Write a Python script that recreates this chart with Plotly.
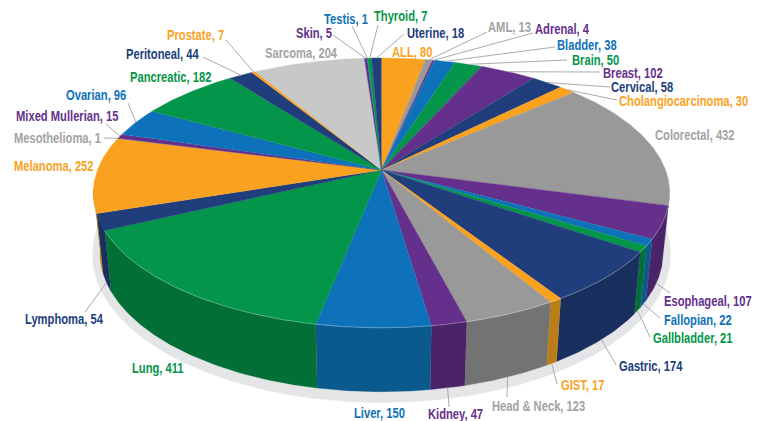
import math
import plotly.graph_objects as go

categories = ["ALL", "AML", "Adrenal", "Bladder", "Brain", "Breast", "Cervical", "Cholangiocarcinoma",
              "Colorectal", "Esophageal", "Fallopian", "Gallbladder", "Gastric", "GIST", "Head & Neck",
              "Kidney", "Liver", "Lung", "Lymphoma", "Melanoma", "Mesothelioma", "Mixed Mullerian",
              "Ovarian", "Pancreatic", "Peritoneal", "Prostate", "Sarcoma", "Skin", "Testis", "Thyroid", "Uterine"]
values = [80, 13, 4, 38, 50, 102, 58, 30, 432, 107, 22, 21, 174, 17, 123, 47, 150, 411, 54, 252, 1, 15, 96,
          182, 44, 7, 204, 5, 1, 7, 18]

ORANGE, GREY, PURPLE, BLUE, GREEN, NAVY, LIGHT = "#faa21f", "#999999", "#65308c", "#0e72ba", "#03964a", "#203e7c", "#c7c8c8"
color_names = [ORANGE, GREY, PURPLE, BLUE, GREEN, PURPLE, NAVY, ORANGE, GREY, PURPLE, BLUE, GREEN, NAVY, ORANGE, GREY,
               PURPLE, BLUE, GREEN, NAVY, ORANGE, GREY, PURPLE, BLUE, GREEN, NAVY, ORANGE, LIGHT, PURPLE, BLUE, GREEN, NAVY]
SIDE = {ORANGE: "#bb7d18", GREY: "#737373", PURPLE: "#4a2368", BLUE: "#0b5a8e", GREEN: "#026f36", NAVY: "#192f5e", LIGHT: "#8f8f8f"}
TEXT = {GREY: "#a3a3a3", LIGHT: "#a3a3a3"}

# label layout: name -> (left x, centre y, leader start x, leader start y, ring)
label_layout = {
    "ALL": (390, 52, None, None, None), "AML": (486, 27, 487, 32, "top"), "Adrenal": (533, 29, 533, 33, "top"),
    "Bladder": (555, 45, 555, 47, "top"), "Brain": (570, 60, 567, 60, "top"), "Breast": (601, 73, 600, 72, "top"),
    "Cervical": (609, 87, 610, 87, "top"), "Cholangiocarcinoma": (617, 101, 617, 100, "top"),
    "Colorectal": (653, 135, None, None, None), "Esophageal": (662, 301, 670, 293, "low"),
    "Fallopian": (662, 320, 660, 318, "low"), "Gallbladder": (651, 338, 650, 337, "low"),
    "Gastric": (617, 366, 616, 365, "low"), "GIST": (559, 385, 557, 384, "low"),
    "Head & Neck": (490, 406, 507, 397, "low"), "Kidney": (426, 414, 449, 407, "low"),
    "Liver": (352, 413, None, None, None), "Lung": (130, 368, None, None, None),
    "Lymphoma": (23, 319, 85, 312, "low"), "Melanoma": (12, 166, None, None, None),
    "Mesothelioma": (12, 138, 104, 138, "top"), "Mixed Mullerian": (14, 116, 106, 124, "top"),
    "Ovarian": (64, 95, 128, 103, "top"), "Pancreatic": (128, 77, None, None, None),
    "Peritoneal": (124, 54, 203, 57, "top"), "Prostate": (165, 35, 226, 40, "top"),
    "Sarcoma": (263, 53, None, None, None), "Skin": (294, 33, 333, 35, "top"),
    "Testis": (322, 19, 352, 26, "top"), "Thyroid": (372, 16, 378, 25, "top"), "Uterine": (405, 33, 404, 34, "top"),
}

CX, K = 381.5, 0.17
TOP = dict(cy=170.0, a=284.0, b=131.0)
LOW = dict(cy=229.0, a=277.5, b=135.0)
SHADOW = dict(cy=254.5, a=289.0, b=148.0)


def project(theta, ring, k=K):
    t = math.radians(theta)
    u, v = math.sin(t), math.cos(t)
    d = 1 + k * v
    return CX + ring["a"] * u / d, ring["cy"] - ring["b"] * v / d


def arc(t0, t1, ring, k=K):
    n = max(2, int(abs(t1 - t0) / 0.5) + 2)
    pts = [project(t0 + (t1 - t0) * i / (n - 1), ring, k) for i in range(n)]
    return [p[0] for p in pts], [p[1] for p in pts]


total = sum(values)
starts, c = [], 0
for val in values:
    starts.append(c / total * 360)
    c += val
ends = starts[1:] + [360.0]

fig = go.Figure()


def poly(xs, ys, color):
    fig.add_trace(go.Scatter(x=xs, y=ys, mode="lines", fill="toself", fillcolor=color,
                             line=dict(color=color, width=0.4), hoverinfo="skip", showlegend=False))


sx, sy = arc(0, 360, SHADOW, 0)
poly(sx, sy, "#e4e5e6")

VIS0, VIS1 = 105.0, 262.0
for s, e, col in zip(starts, ends, color_names):
    a, b = max(s, VIS0), min(e, VIS1)
    if b > a:
        tx, ty = arc(a, b, TOP)
        lx, ly = arc(b, a, LOW)
        poly(tx + lx, ty + ly, SIDE[col])

for s, e, col in zip(starts, ends, color_names):
    tx, ty = arc(s, e, TOP)
    poly([CX] + tx, [TOP["cy"]] + ty, col)

hx, hy = arc(105, 244.5, TOP)
fig.add_trace(go.Scatter(x=hx, y=hy, mode="lines", line=dict(color="rgba(255,255,255,0.28)", width=1),
                         hoverinfo="skip", showlegend=False))

lx, ly = [], []
annotations = []
for name, val, s, e, col in zip(categories, values, starts, ends, color_names):
    x0, y0, lsx, lsy, ring = label_layout[name]
    if ring:
        px, py = project((s + e) / 2, TOP if ring == "top" else LOW)
        lx += [lsx, px, None]
        ly += [lsy, py, None]
    annotations.append(dict(x=x0, y=y0, xref="x", yref="y", text=f"<b>{name}, {val}</b>", showarrow=False,
                            xanchor="left", yanchor="middle", align="left",
                            font=dict(family="Liberation Sans", size=14, color=TEXT.get(col, col))))
fig.add_trace(go.Scatter(x=lx, y=ly, mode="lines", line=dict(color="#a9abae", width=1), hoverinfo="skip", showlegend=False))

fig.update_layout(width=766, height=421, margin=dict(l=0, r=0, t=0, b=0), paper_bgcolor="white", plot_bgcolor="white",
                  xaxis=dict(range=[0, 766], visible=False, fixedrange=True),
                  yaxis=dict(range=[421, 0], visible=False, fixedrange=True),
                  annotations=annotations, showlegend=False)

# the reference face is a condensed bold; condense the real text horizontally about its left edge
post = """
document.body.style.margin = '0';
var gd = document.getElementById('{plot_id}');
function condense() {
  gd.querySelectorAll('.annotation-text').forEach(function (t) {
    var b = t.getBBox();
    t.setAttribute('transform', 'translate(' + b.x + ',0) scale(0.8,1) translate(' + (-b.x) + ',0)');
  });
}
condense();
gd.on('plotly_afterplot', condense);
"""
fig.write_html("out.html", config=dict(displayModeBar=False), post_script=post)
